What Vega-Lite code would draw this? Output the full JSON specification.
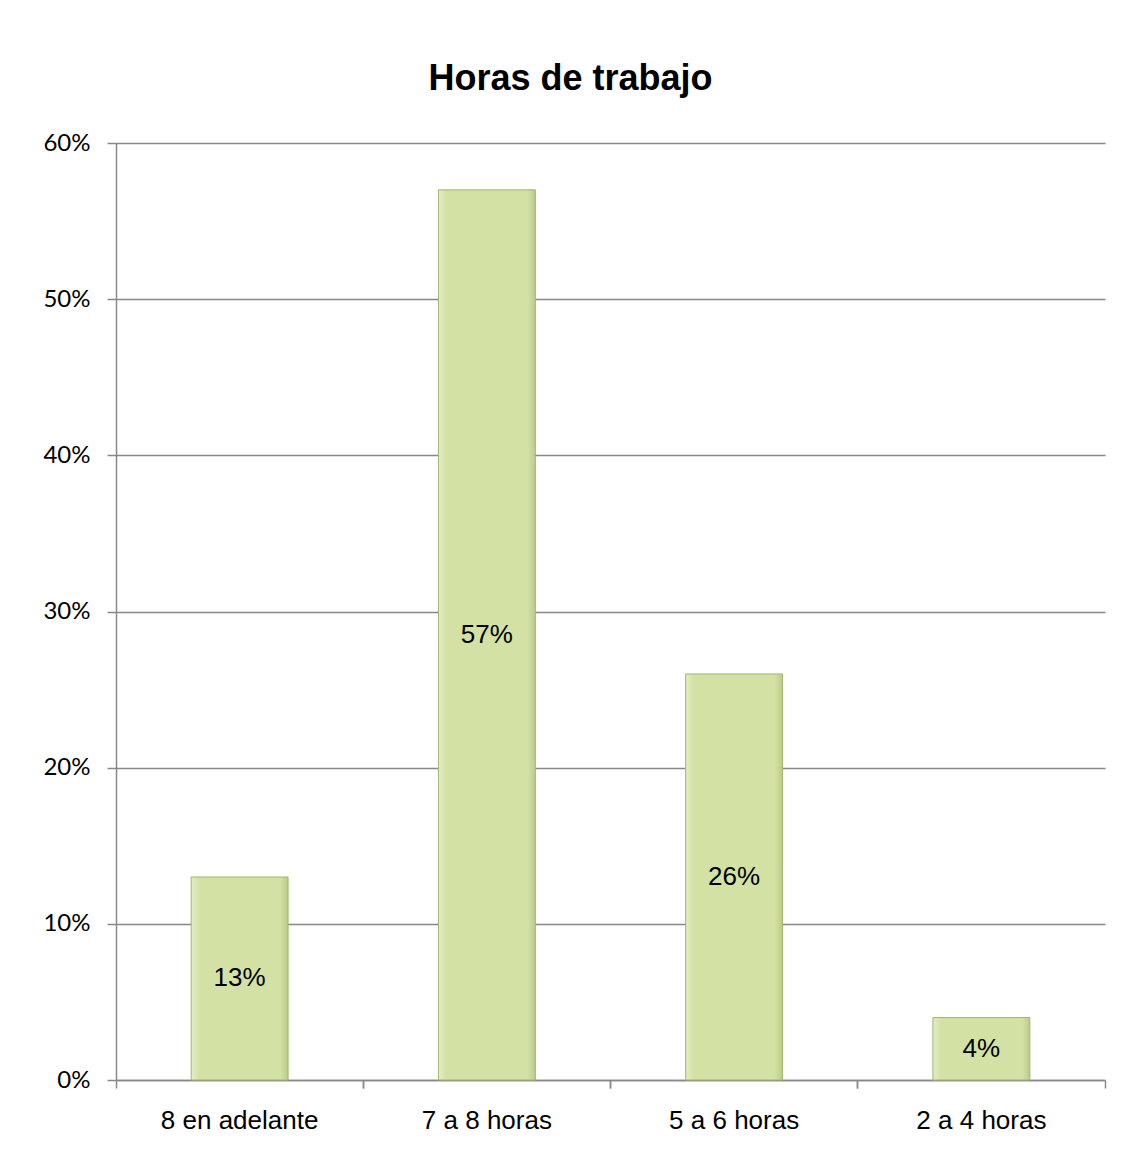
{
  "$schema": "https://vega.github.io/schema/vega-lite/v6.json",
  "width": 989,
  "height": 937,
  "autosize": {"type": "none"},
  "padding": {"left": 116, "top": 143, "right": 35, "bottom": 75},
  "background": "white",
  "title": {
    "text": "Horas de trabajo",
    "font": "Liberation Sans",
    "fontSize": 36,
    "fontWeight": "bold",
    "color": "#000000",
    "anchor": "middle",
    "frame": "group",
    "dx": -40,
    "baseline": "alphabetic",
    "offset": 5
  },
  "config": {
    "view": {"stroke": null},
    "axis": {
      "domainColor": "#888888",
      "domainWidth": 1.5,
      "tickColor": "#888888",
      "tickWidth": 1.5,
      "gridColor": "#888888",
      "gridWidth": 1.5,
      "labelColor": "#000000",
      "title": null
    }
  },
  "data": {
    "values": [
      {"horas": "8 en adelante", "valor": 0.13},
      {"horas": "7 a 8 horas", "valor": 0.57},
      {"horas": "5 a 6 horas", "valor": 0.26},
      {"horas": "2 a 4 horas", "valor": 0.04}
    ]
  },
  "transform": [{"calculate": "datum.valor / 2", "as": "mitad"}],
  "layer": [
    {
      "mark": {
        "type": "bar",
        "width": {"band": 0.392},
        "fill": {
          "gradient": "linear",
          "x1": 0, "y1": 0, "x2": 1, "y2": 0,
          "stops": [
            {"offset": 0, "color": "#e4edc6"},
            {"offset": 0.08, "color": "#d3e2a4"},
            {"offset": 0.92, "color": "#d3e2a4"},
            {"offset": 1, "color": "#b9cb8a"}
          ]
        },
        "stroke": "#a0b570",
        "strokeWidth": 1
      },
      "encoding": {
        "x": {
          "field": "horas",
          "type": "nominal",
          "sort": null,
          "scale": {"paddingInner": 0, "paddingOuter": 0},
          "axis": {
            "orient": "bottom",
            "bandPosition": 1,
            "labelAngle": 0,
            "labelFont": "Liberation Sans",
            "labelFontSize": 26,
            "labelPadding": 19,
            "tickSize": 8,
            "grid": false
          }
        },
        "y": {
          "field": "valor",
          "type": "quantitative",
          "scale": {"domain": [0, 0.6], "nice": false},
          "axis": {
            "values": [0, 0.1, 0.2, 0.3, 0.4, 0.5, 0.6],
            "format": ".0%",
            "labelFont": "Lato",
            "labelFontSize": 24,
            "labelPadding": 17,
            "tickSize": 9,
            "grid": true
          }
        }
      }
    },
    {
      "mark": {
        "type": "text",
        "font": "Liberation Sans",
        "fontSize": 26,
        "color": "#000000",
        "baseline": "middle",
        "align": "center"
      },
      "encoding": {
        "x": {
          "field": "horas",
          "type": "nominal",
          "sort": null,
          "axis": {
            "orient": "bottom",
            "bandPosition": 0,
            "labels": false,
            "domain": false,
            "tickSize": 8,
            "grid": false
          }
        },
        "y": {"field": "mitad", "type": "quantitative"},
        "text": {"field": "valor", "type": "quantitative", "format": ".0%"}
      }
    }
  ],
  "resolve": {"axis": {"x": "independent"}}
}
